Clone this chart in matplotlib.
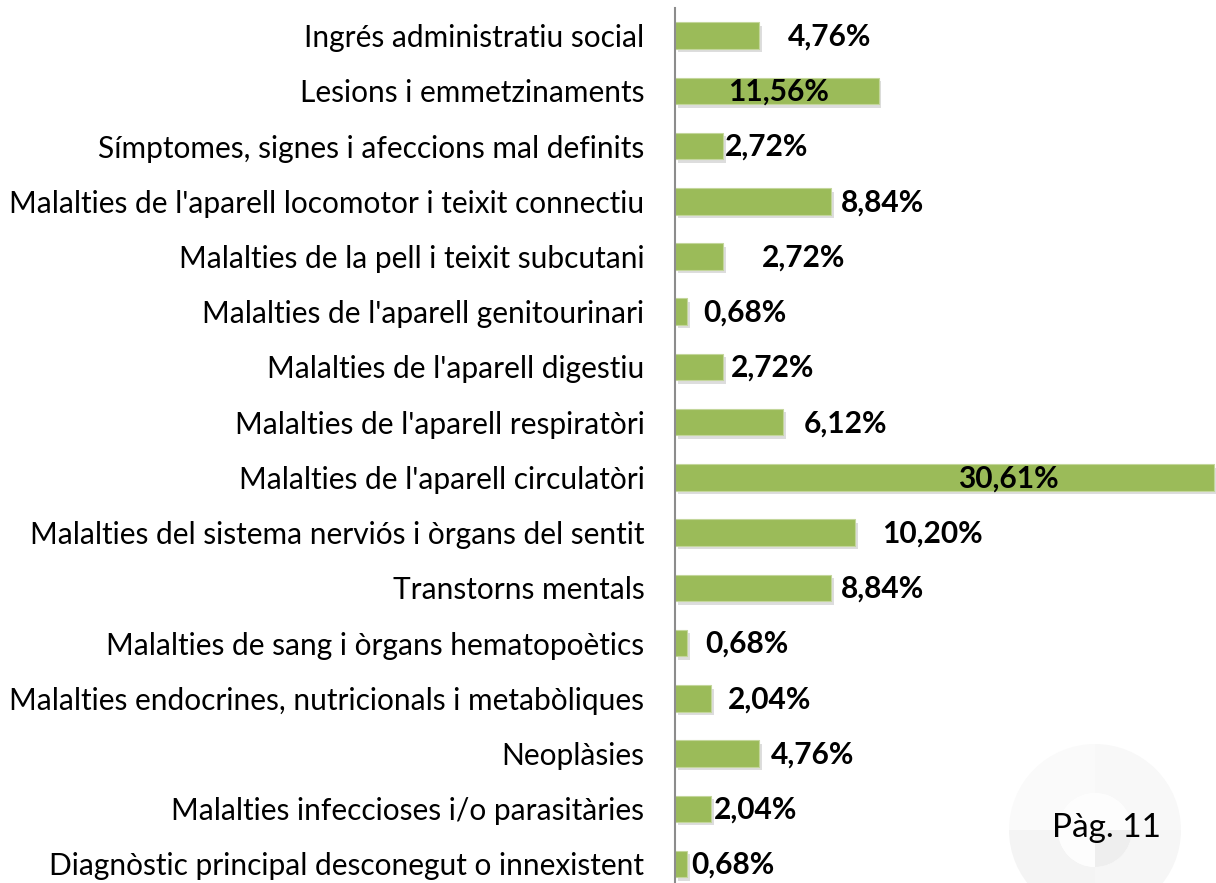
import matplotlib
matplotlib.use("Agg")
from matplotlib import pyplot as plt
from matplotlib import patheffects as pe
from matplotlib.patches import Wedge

categories = [
    "Ingrés administratiu social",
    "Lesions i emmetzinaments",
    "Símptomes, signes i afeccions mal definits",
    "Malalties de l'aparell locomotor i teixit connectiu",
    "Malalties de la pell i teixit subcutani",
    "Malalties de l'aparell genitourinari",
    "Malalties de l'aparell digestiu",
    "Malalties de l'aparell respiratòri",
    "Malalties de l'aparell circulatòri",
    "Malalties del sistema nerviós i òrgans del sentit",
    "Transtorns mentals",
    "Malalties de sang i òrgans hematopoètics",
    "Malalties endocrines, nutricionals i metabòliques",
    "Neoplàsies",
    "Malalties infeccioses i/o parasitàries",
    "Diagnòstic principal desconegut o innexistent",
]
values = [4.76, 11.56, 2.72, 8.84, 2.72, 0.68, 2.72, 6.12,
          30.61, 10.20, 8.84, 0.68, 2.04, 4.76, 2.04, 0.68]
# horizontal shift of each value label from the bar end, in pixels
label_shift = [71, -100, 44, 52, 81, 58, 50, 63,
               -206, 78, 52, 60, 59, 54, 45, 46]

plt.rcParams["font.family"] = ["Lato", "DejaVu Sans"]

fig = plt.figure(figsize=(12.16, 8.83), dpi=100)

# light page decoration behind the page number
deco = fig.add_axes([1009 / 1216, 1 - 916 / 883, 172 / 1216, 172 / 883])
deco.set_xlim(-1, 1)
deco.set_ylim(-1, 1)
deco.set_aspect("equal")
deco.axis("off")
ring_cols = ["#f8f8f8", "#fafafa", "#f4f4f4", "#f6f6f6"]
for i, c in enumerate(ring_cols):
    deco.add_patch(Wedge((0, 0), 1.0, i * 90, (i + 1) * 90, width=0.57, color=c, lw=0))
deco.add_patch(Wedge((0, 0), 0.43, 0, 360, color="#fdfdfd", lw=0))
deco.add_patch(Wedge((0, 0), 0.43, 270, 360, color="#eeeeee", lw=0))

ax = fig.add_axes([675 / 1216, 1 - 891.6 / 883, 1 - 675 / 1216, 883.6 / 883])
ax.patch.set_alpha(0)
ypos = list(range(len(categories)))
bars = ax.barh(ypos, values, height=0.48, color="#9bbb59",
               edgecolor="#c3d69b", linewidth=0.8)
for b in bars:
    b.set_path_effects([pe.SimplePatchShadow(offset=(2, -2.5), shadow_rgbFace="#909090", alpha=0.3),
                        pe.Normal()])

for y, v, s in zip(ypos, values, label_shift):
    ax.annotate(f"{v:.2f}%".replace(".", ","), (v, y), xytext=(s, -1),
                textcoords="offset pixels", ha="center", va="center",
                fontsize=21.5, fontweight="bold", color="black")

ax.set_ylim(len(categories) - 0.5, -0.5)
ax.set_xlim(0, 30.7)
ax.set_yticks(ypos)
ax.set_yticklabels(categories, fontsize=21.5)
ax.tick_params(axis="y", length=0, pad=22)
ax.set_xticks([])
for side in ["top", "right", "bottom"]:
    ax.spines[side].set_visible(False)
ax.spines["left"].set_color("#8c8c8c")
ax.spines["left"].set_linewidth(1.5)

fig.text(1107 / 1216, 1 - 828 / 883, "Pàg. 11", ha="center", va="center",
         fontsize=24, color="black")

fig.savefig("out.png", dpi=100)
plt.close(fig)
